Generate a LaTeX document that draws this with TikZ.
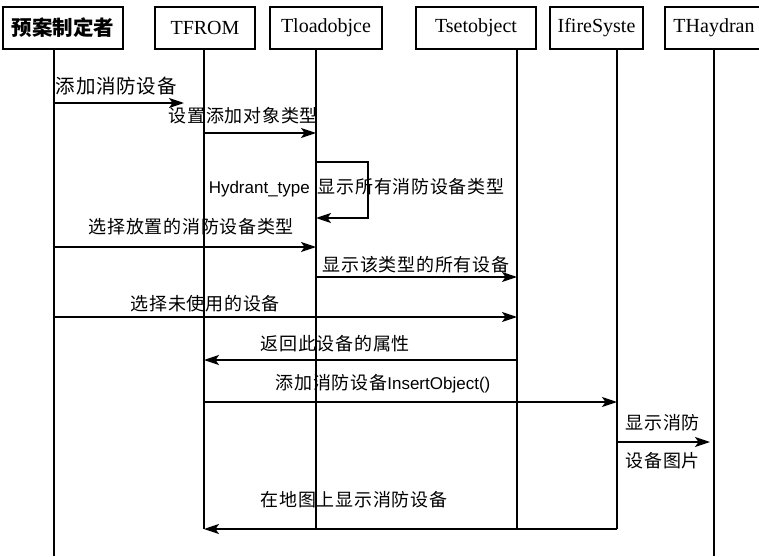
\documentclass[tikz,border=0pt]{standalone}
\usepackage{fontspec}
\setmainfont{Liberation Serif}
\newfontfamily\cjk{Noto Sans CJK SC}[LetterSpace=4]
\newfontfamily\cjkbold{Noto Sans CJK SC}
\newfontfamily\lsans{Liberation Sans}
\usetikzlibrary{arrows.meta}

\newcommand{\latin}[1]{{\lsans\fontsize{17}{20}\selectfont #1}}

\begin{document}
\begin{tikzpicture}[x=1pt,y=-1pt,line width=1.5pt,>={Stealth[length=15pt,width=10pt,inset=3.5pt]},
  obj/.style={draw,minimum height=42pt,inner sep=0pt,font=\fontsize{20}{22}\selectfont},
  msg/.style={anchor=west,inner sep=0pt,font=\cjk\fontsize{18}{20}\selectfont}]
  \useasboundingbox (0,0) rectangle (759,556);
  % --- objects ---
  \node[obj,minimum width=120pt,font=\cjkbold\bfseries\fontsize{20.5}{22}\selectfont] (actor) at (63,28) {预案制定者};
  \node[obj,minimum width=100pt] (tfrom) at (205,28) {TFROM};
  \node[obj,minimum width=112pt] (tload) at (326,28) {Tloadobjce};
  \node[obj,minimum width=120pt] (tset) at (476,28) {Tsetobject};
  \node[obj,minimum width=93pt] (ifire) at (596.5,28) {IfireSyste};
  \node[obj,minimum width=98pt] (thay) at (714,28) {THaydran};
  % --- lifelines ---
  \coordinate (actend) at (54,556);
  \coordinate (tfrend) at (204,529);
  \coordinate (tldend) at (316,529);
  \coordinate (tstend) at (517,529);
  \coordinate (ifrend) at (617,529);
  \coordinate (thyend) at (714,556);
  \draw (actor.south -| actend) -- (actend);
  \draw (tfrom.south -| tfrend) -- (tfrend);
  \draw (tload.south -| tldend) -- (tldend);
  \draw (tset.south -| tstend) -- (tstend);
  \draw (ifire.south -| ifrend) -- (ifrend);
  \draw (thay.south -| thyend) -- (thyend);
  % --- points on the lifelines ---
  \coordinate (act1) at (54,103);  \coordinate (free1) at (184,103);
  \coordinate (tfr2) at (204,133); \coordinate (tld2) at (316,133);
  \coordinate (tld3) at (316,162); \coordinate (tld3b) at (316,218);
  \coordinate (act4) at (54,247);  \coordinate (tld4) at (316,247);
  \coordinate (tld5) at (316,277); \coordinate (tst5) at (517,277);
  \coordinate (act6) at (54,317);  \coordinate (tst6) at (517,317);
  \coordinate (tst7) at (517,360); \coordinate (tfr7) at (204,360);
  \coordinate (tfr8) at (204,402); \coordinate (ifr8) at (617,402);
  \coordinate (ifr9) at (617,442); \coordinate (free9) at (710,442);
  \coordinate (ifr10) at (617,529);
  % --- messages ---
  \draw[->] (act1) -- (free1);
  \node[msg,font=\cjk\fontsize{19.5}{21}\selectfont] (lab1) at (55,86) {添加消防设备};
  \draw[->] (tfr2) -- (tld2);
  \node[msg] (lab2) at (168,116) {设置添加对象类型};
  \draw[->] (tld3) -- ++(52,0) |- (tld3b);
  \node[msg] (lab3) at (208,188) {\latin{Hydrant\_type}\hspace{8pt}显示所有消防设备类型};
  \draw[->] (act4) -- (tld4);
  \node[msg] (lab4) at (88,227) {选择放置的消防设备类型};
  \draw[->] (tld5) -- (tst5);
  \node[msg] (lab5) at (322,265) {显示该类型的所有设备};
  \draw[->] (act6) -- (tst6);
  \node[msg] (lab6) at (130,304) {选择未使用的设备};
  \draw[->] (tst7) -- (tfr7);
  \node[msg] (lab7) at (260,344) {返回此设备的属性};
  \draw[->] (tfr8) -- (ifr8);
  \node[msg] (lab8) at (275,384) {添加消防设备\latin{InsertObject()}};
  \draw[->] (ifr9) -- (free9);
  \node[msg] (lab9a) at (625,423) {显示消防};
  \node[msg] (lab9b) at (625,461) {设备图片};
  \draw[->] (ifr10) -- (tfrend);
  \node[msg] (lab10) at (260,500) {在地图上显示消防设备};
\end{tikzpicture}
\end{document}
